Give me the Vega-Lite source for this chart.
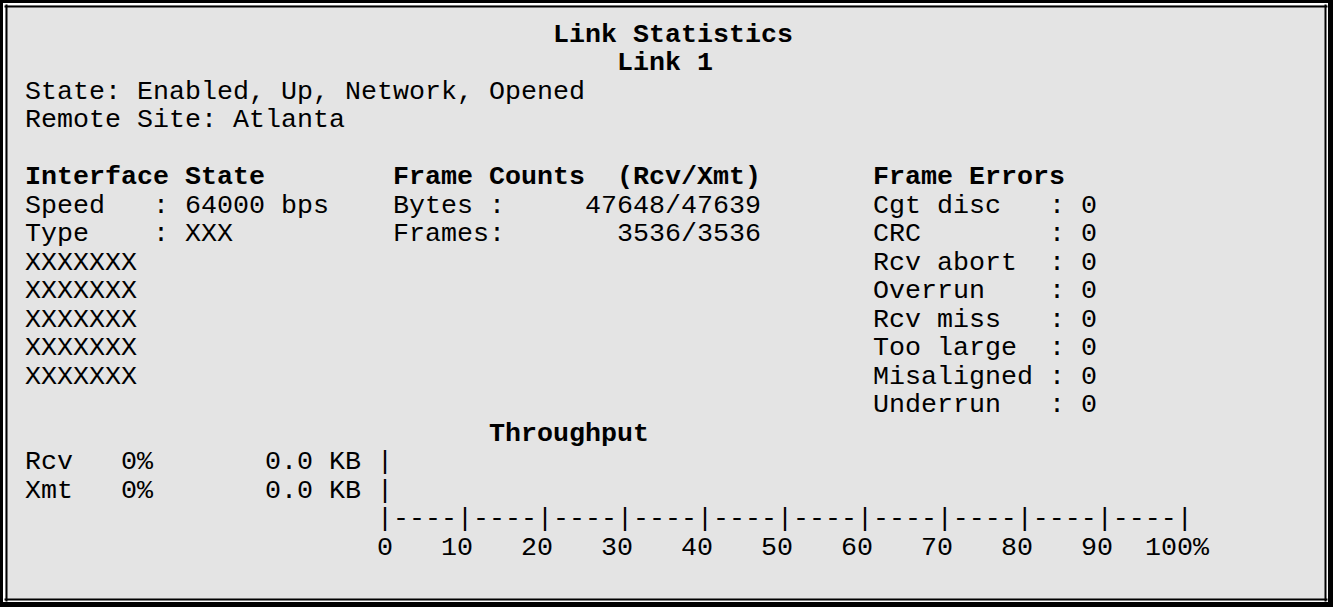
{
  "$schema": "https://vega.github.io/schema/vega-lite/v6.json",
  "width": 1323,
  "height": 597,
  "autosize": {"type": "none"},
  "padding": {"left": 4, "top": 4, "right": 6, "bottom": 6},
  "background": "#000000",
  "config": {"view": {"fill": "#e4e4e4", "stroke": "#ffffff", "strokeWidth": 2}},
  "data": {"values": [
    {"r": 0, "c": 33, "t": "Link Statistics", "k": "h"},
    {"r": 1, "c": 37, "t": "Link 1", "k": "h"},
    {"r": 2, "c": 0, "t": "State: Enabled, Up, Network, Opened", "k": "n"},
    {"r": 3, "c": 0, "t": "Remote Site: Atlanta", "k": "n"},
    {"r": 5, "c": 0, "t": "Interface State", "k": "h"},
    {"r": 5, "c": 23, "t": "Frame Counts", "k": "h"},
    {"r": 5, "c": 37, "t": "(Rcv/Xmt)", "k": "h"},
    {"r": 5, "c": 53, "t": "Frame Errors", "k": "h"},
    {"r": 6, "c": 0, "t": "Speed", "k": "n"},
    {"r": 6, "c": 8, "t": ": 64000 bps", "k": "n"},
    {"r": 6, "c": 23, "t": "Bytes :", "k": "n"},
    {"r": 6, "c": 35, "t": "47648/47639", "k": "n"},
    {"r": 6, "c": 53, "t": "Cgt disc", "k": "n"},
    {"r": 6, "c": 64, "t": ": 0", "k": "n"},
    {"r": 7, "c": 0, "t": "Type", "k": "n"},
    {"r": 7, "c": 8, "t": ": XXX", "k": "n"},
    {"r": 7, "c": 23, "t": "Frames:", "k": "n"},
    {"r": 7, "c": 37, "t": "3536/3536", "k": "n"},
    {"r": 7, "c": 53, "t": "CRC", "k": "n"},
    {"r": 7, "c": 64, "t": ": 0", "k": "n"},
    {"r": 8, "c": 0, "t": "XXXXXXX", "k": "n"},
    {"r": 8, "c": 53, "t": "Rcv abort", "k": "n"},
    {"r": 8, "c": 64, "t": ": 0", "k": "n"},
    {"r": 9, "c": 0, "t": "XXXXXXX", "k": "n"},
    {"r": 9, "c": 53, "t": "Overrun", "k": "n"},
    {"r": 9, "c": 64, "t": ": 0", "k": "n"},
    {"r": 10, "c": 0, "t": "XXXXXXX", "k": "n"},
    {"r": 10, "c": 53, "t": "Rcv miss", "k": "n"},
    {"r": 10, "c": 64, "t": ": 0", "k": "n"},
    {"r": 11, "c": 0, "t": "XXXXXXX", "k": "n"},
    {"r": 11, "c": 53, "t": "Too large", "k": "n"},
    {"r": 11, "c": 64, "t": ": 0", "k": "n"},
    {"r": 12, "c": 0, "t": "XXXXXXX", "k": "n"},
    {"r": 12, "c": 53, "t": "Misaligned", "k": "n"},
    {"r": 12, "c": 64, "t": ": 0", "k": "n"},
    {"r": 13, "c": 53, "t": "Underrun", "k": "n"},
    {"r": 13, "c": 64, "t": ": 0", "k": "n"},
    {"r": 14, "c": 29, "t": "Throughput", "k": "h"},
    {"r": 15, "c": 0, "t": "Rcv", "k": "n"},
    {"r": 15, "c": 6, "t": "0%", "k": "n"},
    {"r": 15, "c": 15, "t": "0.0 KB", "k": "n"},
    {"r": 15, "c": 22, "t": "|", "k": "n"},
    {"r": 16, "c": 0, "t": "Xmt", "k": "n"},
    {"r": 16, "c": 6, "t": "0%", "k": "n"},
    {"r": 16, "c": 15, "t": "0.0 KB", "k": "n"},
    {"r": 16, "c": 22, "t": "|", "k": "n"},
    {"r": 17, "c": 22, "t": "|----|----|----|----|----|----|----|----|----|----|", "k": "n"},
    {"r": 18, "c": 22, "t": "0", "k": "n"},
    {"r": 18, "c": 26, "t": "10", "k": "n"},
    {"r": 18, "c": 31, "t": "20", "k": "n"},
    {"r": 18, "c": 36, "t": "30", "k": "n"},
    {"r": 18, "c": 41, "t": "40", "k": "n"},
    {"r": 18, "c": 46, "t": "50", "k": "n"},
    {"r": 18, "c": 51, "t": "60", "k": "n"},
    {"r": 18, "c": 56, "t": "70", "k": "n"},
    {"r": 18, "c": 61, "t": "80", "k": "n"},
    {"r": 18, "c": 66, "t": "90", "k": "n"},
    {"r": 18, "c": 70, "t": "100%", "k": "n"}
  ]},
  "layer": [
    {
      "transform": [{"filter": "datum.k == 'n'"}],
      "mark": {"type": "text", "align": "left", "baseline": "middle", "font": "Liberation Mono", "fontSize": 26.67, "color": "#000000"},
      "encoding": {
        "x": {"field": "c", "type": "quantitative", "scale": {"domain": [-1.3125, 81.375], "nice": false, "zero": false},
              "axis": {"orient": "bottom", "labels": false, "ticks": false, "grid": false, "title": null, "domainColor": "#000000", "domainWidth": 2, "offset": -2}},
        "y": {"field": "r", "type": "quantitative", "scale": {"domain": [-1.0526, 19.895], "nice": false, "zero": false, "reverse": true},
              "axis": {"orient": "left", "labels": false, "ticks": false, "grid": false, "title": null, "domainColor": "#000000", "domainWidth": 2, "offset": -2}},
        "text": {"field": "t"}
      }
    },
    {
      "transform": [{"filter": "datum.k == 'h'"}],
      "mark": {"type": "text", "align": "left", "baseline": "middle", "font": "Liberation Mono", "fontSize": 26.67, "fontWeight": "bold", "color": "#000000"},
      "encoding": {
        "x": {"field": "c", "type": "quantitative", "scale": {"domain": [-1.3125, 81.375], "nice": false, "zero": false},
              "axis": {"orient": "top", "labels": false, "ticks": false, "grid": false, "title": null, "domainColor": "#000000", "domainWidth": 2, "offset": -2}},
        "y": {"field": "r", "type": "quantitative", "scale": {"domain": [-1.0526, 19.895], "nice": false, "zero": false, "reverse": true},
              "axis": {"orient": "right", "labels": false, "ticks": false, "grid": false, "title": null, "domainColor": "#000000", "domainWidth": 2, "offset": -2}},
        "text": {"field": "t"}
      }
    }
  ],
  "resolve": {"axis": {"x": "independent", "y": "independent"}}
}
